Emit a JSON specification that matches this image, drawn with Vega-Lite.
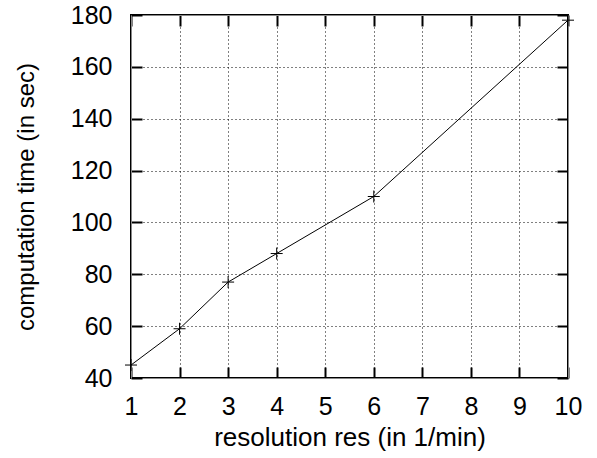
{
  "$schema": "https://vega.github.io/schema/vega-lite/v6.json",
  "width": 437,
  "height": 363,
  "autosize": {"type": "none"},
  "padding": {"left": 131, "top": 15, "right": 29, "bottom": 80},
  "background": "white",
  "config": {
    "view": {"stroke": "black", "strokeWidth": 2},
    "font": "Liberation Sans"
  },
  "data": {
    "values": [
      {"res": 1, "time": 45},
      {"res": 2, "time": 59},
      {"res": 3, "time": 77},
      {"res": 4, "time": 88},
      {"res": 6, "time": 110},
      {"res": 10, "time": 178}
    ]
  },
  "layer": [
    {
      "mark": {"type": "line", "color": "black", "strokeWidth": 1},
      "encoding": {
        "x": {
          "field": "res",
          "type": "quantitative",
          "scale": {"domain": [1, 10], "nice": false, "zero": false},
          "axis": {
            "orient": "bottom",
            "values": [1, 2, 3, 4, 5, 6, 7, 8, 9, 10],
            "grid": true, "gridColor": "black", "gridOpacity": 1, "gridWidth": 1, "gridDash": [1, 3],
            "tickColor": "#000000", "tickWidth": 2, "tickSize": -11,
            "labelFlush": false,
            "labelFontSize": 25, "labelColor": "black", "labelFont": "Liberation Sans",
            "labelPadding": 27,
            "title": "resolution res (in 1/min)",
            "titleFont": "Liberation Sans", "titleFontSize": 26, "titleFontWeight": "normal", "titleColor": "black",
            "titleY": 59,
            "titleBaseline": "middle"
          }
        },
        "y": {
          "field": "time",
          "type": "quantitative",
          "scale": {"domain": [40, 180], "nice": false, "zero": false},
          "axis": {
            "orient": "left",
            "values": [40, 60, 80, 100, 120, 140, 160, 180],
            "grid": true, "gridColor": "black", "gridOpacity": 1, "gridWidth": 1, "gridDash": [1, 3],
            "tickColor": "#000000", "tickWidth": 2, "tickSize": -11,
            "labelFlush": false,
            "labelFontSize": 25, "labelColor": "black", "labelFont": "Liberation Sans",
            "labelPadding": 30,
            "title": "computation time (in sec)",
            "titleFont": "Liberation Sans", "titleFontSize": 24, "titleFontWeight": "normal", "titleColor": "black",
            "titleX": -105,
            "titleY": 181.5,
            "titleBaseline": "middle"
          }
        }
      }
    },
    {
      "mark": {"type": "point", "shape": "M-1,0L1,0M0,-1L0,1", "size": 144, "filled": false, "color": "black", "strokeWidth": 1, "opacity": 1},
      "encoding": {
        "x": {
          "field": "res",
          "type": "quantitative",
          "axis": {"orient": "top", "values": [1, 2, 3, 4, 5, 6, 7, 8, 9, 10], "labels": false, "grid": false, "title": null,
            "tickColor": "#000000", "tickWidth": 2, "tickSize": -11}
        },
        "y": {
          "field": "time",
          "type": "quantitative",
          "axis": {"orient": "right", "values": [40, 60, 80, 100, 120, 140, 160, 180], "labels": false, "grid": false, "title": null,
            "tickColor": "#000000", "tickWidth": 2, "tickSize": -11}
        }
      }
    }
  ],
  "resolve": {"axis": {"x": "independent", "y": "independent"}}
}
